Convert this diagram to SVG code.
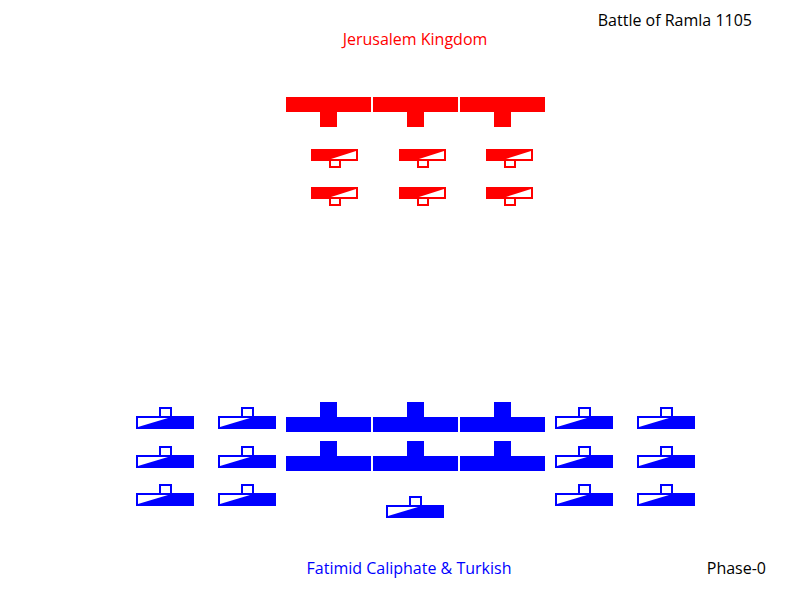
<svg xmlns="http://www.w3.org/2000/svg" xmlns:xlink="http://www.w3.org/1999/xlink" width="800" height="600" viewBox="0 0 800 600">
<style>
text{font-family:"Open Sans","Liberation Sans",sans-serif;font-size:16px}
.r{fill:#ff0000}.b{fill:#0000ff}
</style>
<defs>
<g id="rinf"><path class="r" d="M0 0H85V15H51V30H34V15H0Z"/></g>
<g id="binf"><path class="b" d="M0 15H34V0H51V15H85V30H0Z"/></g>
<g id="rcav">
<rect x="1" y="1" width="45" height="10" fill="#ff0000" stroke="#ff0000" stroke-width="2"/>
<polygon points="20,10 45,2 45,10" fill="#fff"/>
<rect x="19" y="11" width="10" height="7" fill="#fff" stroke="#ff0000" stroke-width="2"/>
</g>
<g id="bcav">
<rect x="24" y="1" width="11" height="9" fill="#fff" stroke="#0000ff" stroke-width="2"/>
<rect x="1" y="10" width="56" height="11" fill="#0000ff" stroke="#0000ff" stroke-width="2"/>
<polygon points="2,20 2,11 32,11" fill="#fff"/>
</g>
</defs>
<text x="752" y="26" text-anchor="end" fill="#000">Battle of Ramla 1105</text>
<text x="415" y="45" text-anchor="middle" fill="#ff0000">Jerusalem Kingdom</text>
<text x="409" y="574" text-anchor="middle" fill="#0000ff">Fatimid Caliphate &amp; Turkish</text>
<text x="766" y="574" text-anchor="end" fill="#000">Phase-0</text>
<g id="red-infantry">
<use xlink:href="#rinf" x="286" y="97"/><use xlink:href="#rinf" x="373" y="97"/><use xlink:href="#rinf" x="460" y="97"/>
</g>
<g id="red-cavalry">
<use xlink:href="#rcav" x="311" y="149"/><use xlink:href="#rcav" x="399" y="149"/><use xlink:href="#rcav" x="486" y="149"/>
<use xlink:href="#rcav" x="311" y="187"/><use xlink:href="#rcav" x="399" y="187"/><use xlink:href="#rcav" x="486" y="187"/>
</g>
<g id="blue-infantry">
<use xlink:href="#binf" x="286" y="402"/><use xlink:href="#binf" x="373" y="402"/><use xlink:href="#binf" x="460" y="402"/>
<use xlink:href="#binf" x="286" y="441"/><use xlink:href="#binf" x="373" y="441"/><use xlink:href="#binf" x="460" y="441"/>
</g>
<g id="blue-cavalry">
<use xlink:href="#bcav" x="136" y="407"/><use xlink:href="#bcav" x="218" y="407"/><use xlink:href="#bcav" x="555" y="407"/><use xlink:href="#bcav" x="637" y="407"/>
<use xlink:href="#bcav" x="136" y="446"/><use xlink:href="#bcav" x="218" y="446"/><use xlink:href="#bcav" x="555" y="446"/><use xlink:href="#bcav" x="637" y="446"/>
<use xlink:href="#bcav" x="136" y="484"/><use xlink:href="#bcav" x="218" y="484"/><use xlink:href="#bcav" x="555" y="484"/><use xlink:href="#bcav" x="637" y="484"/>
<use xlink:href="#bcav" x="386" y="496"/>
</g>
</svg>
